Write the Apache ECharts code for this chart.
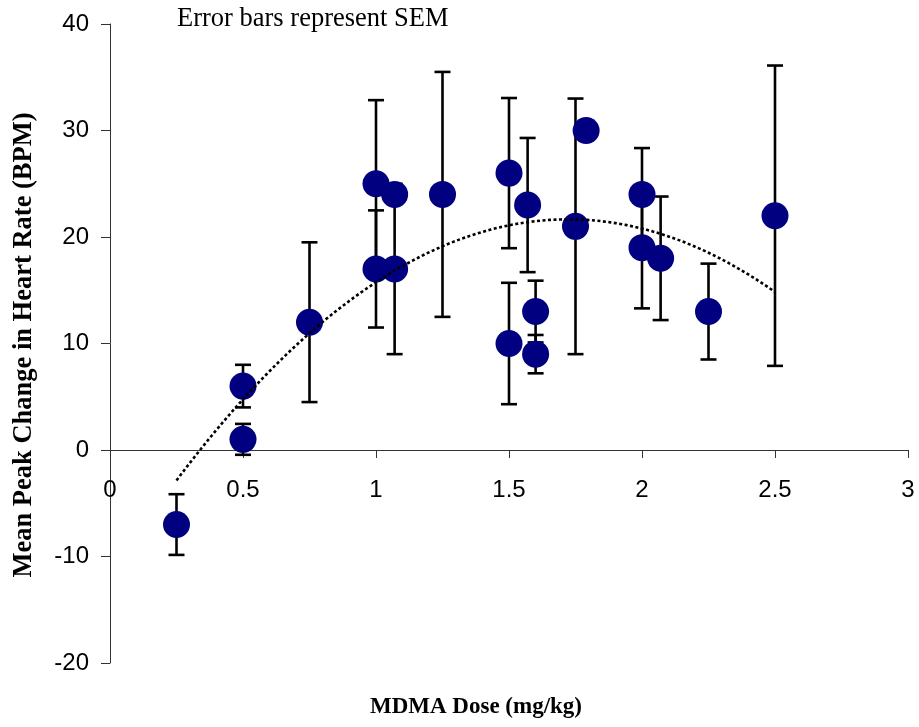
<!DOCTYPE html>
<html>
<head>
<meta charset="utf-8">
<script src="https://cdn.jsdelivr.net/npm/echarts@6/dist/echarts.min.js"></script>
<style>
html,body{margin:0;padding:0;background:#fff;}
#chart{width:919px;height:727px;}
</style>
</head>
<body>
<div id="chart"></div>
<script>
// Data
const doses = [0.25, 0.5, 0.5, 0.75, 1.0, 1.0, 1.07, 1.07, 1.25, 1.5, 1.5, 1.57, 1.6, 1.6, 1.75, 1.79, 2.0, 2.0, 2.07, 2.25, 2.5];
const means = [-7, 1, 6, 12, 17, 25, 17, 24, 24, 26, 10, 23, 13, 9, 21, 30, 24, 19, 18, 13, 22];
const sems  = [2.85, 1.45, 2.0, 7.5, 5.5, 7.85, 8.0, 0.9, 11.5, 7.05, 5.7, 6.3, 2.9, 1.8, 12.0, 0.9, 4.35, 5.7, 5.8, 4.5, 14.1];
const xTicks = [0, 0.5, 1, 1.5, 2, 2.5, 3];
const yTicks = [-20, -10, 0, 10, 20, 30, 40];

const noteText = 'Error bars represent SEM';
const xTitle = 'MDMA Dose (mg/kg)';
const yTitle = 'Mean Peak Change in Heart Rate (BPM)';

// Build series data
const points = doses.map((d, i) => [d, means[i]]);
const errData = doses.map((d, i) => [d, means[i] - sems[i], means[i] + sems[i]]);

// Polynomial (order 2) least-squares trendline, as in the original spreadsheet chart
function quadFit(xs, ys) {
  const n = xs.length;
  let sx=0, sx2=0, sx3=0, sx4=0, sy=0, sxy=0, sx2y=0;
  for (let i = 0; i < n; i++) {
    const x = xs[i], y = ys[i], x2 = x*x;
    sx += x; sx2 += x2; sx3 += x2*x; sx4 += x2*x2;
    sy += y; sxy += x*y; sx2y += x2*y;
  }
  const M = [[n, sx, sx2, sy],[sx, sx2, sx3, sxy],[sx2, sx3, sx4, sx2y]];
  for (let c = 0; c < 3; c++) {
    let p = c;
    for (let r = c+1; r < 3; r++) if (Math.abs(M[r][c]) > Math.abs(M[p][c])) p = r;
    [M[c], M[p]] = [M[p], M[c]];
    for (let r = 0; r < 3; r++) {
      if (r === c) continue;
      const f = M[r][c] / M[c][c];
      for (let k = c; k < 4; k++) M[r][k] -= f * M[c][k];
    }
  }
  return [M[0][3]/M[0][0], M[1][3]/M[1][1], M[2][3]/M[2][2]];
}
const coef = quadFit(doses, means);
const xmin = Math.min(...doses), xmax = Math.max(...doses);
const trend = [];
for (let i = 0; i <= 120; i++) {
  const x = xmin + (xmax - xmin) * i / 120;
  trend.push([x, coef[0] + coef[1]*x + coef[2]*x*x]);
}

const chart = echarts.init(document.getElementById('chart'), null, {renderer: 'canvas'});
const axisFont = '"Liberation Sans", Arial, sans-serif';
const serif = '"Liberation Serif", "Times New Roman", serif';

chart.setOption({
  animation: false,
  backgroundColor: '#fff',
  grid: {left: 110, right: 11, top: 24, bottom: 64, containLabel: false},
  xAxis: {
    type: 'value', min: xTicks[0], max: xTicks[xTicks.length-1], interval: 0.5,
    axisLine: {onZero: true, lineStyle: {color: '#333', width: 1}},
    axisTick: {show: true, length: 8, lineStyle: {color: '#333'}},
    axisLabel: {fontSize: 24, color: '#000', fontFamily: axisFont, margin: -185},
    splitLine: {show: false}
  },
  yAxis: {
    type: 'value', min: yTicks[0], max: yTicks[yTicks.length-1], interval: 10,
    axisLine: {show: true, onZero: false, lineStyle: {color: '#333', width: 1}},
    axisTick: {show: true, length: 9, lineStyle: {color: '#333'}},
    axisLabel: {fontSize: 24, color: '#000', fontFamily: axisFont, margin: 21},
    splitLine: {show: false}
  },
  graphic: [
    {type: 'text', x: 177, y: 19, style: {text: noteText, font: '26.5px ' + serif, fill: '#000', align: 'left', verticalAlign: 'middle'}},
    {type: 'text', x: 476, y: 707, style: {text: xTitle, font: 'bold 23px ' + serif, fill: '#000', align: 'center', verticalAlign: 'middle'}},
    {type: 'text', x: 24, y: 345, rotation: Math.PI/2, style: {text: yTitle, font: 'bold 26.5px ' + serif, fill: '#000', align: 'center', verticalAlign: 'middle'}}
  ],
  series: [
    {
      type: 'custom',
      data: errData,
      encode: {x: 0, y: [1, 2]},
      z: 2,
      renderItem: function (params, api) {
        const x = api.value(0);
        const lo = api.coord([x, api.value(1)]);
        const hi = api.coord([x, api.value(2)]);
        const hw = 8;
        const st = {stroke: '#000', lineWidth: 2.6};
        return {
          type: 'group',
          children: [
            {type: 'line', shape: {x1: hi[0], y1: hi[1], x2: lo[0], y2: lo[1]}, style: st},
            {type: 'line', shape: {x1: hi[0]-hw, y1: hi[1], x2: hi[0]+hw, y2: hi[1]}, style: st},
            {type: 'line', shape: {x1: lo[0]-hw, y1: lo[1], x2: lo[0]+hw, y2: lo[1]}, style: st}
          ]
        };
      }
    },
    {
      type: 'scatter',
      data: points,
      symbol: 'circle',
      symbolSize: 27,
      itemStyle: {color: '#000080', opacity: 1},
      z: 3
    },
    {
      type: 'line',
      data: trend,
      showSymbol: false,
      symbol: 'none',
      smooth: false,
      lineStyle: {color: '#000', width: 2.6, type: [3, 2.5]},
      z: 4
    }
  ]
});
</script>
</body>
</html>
